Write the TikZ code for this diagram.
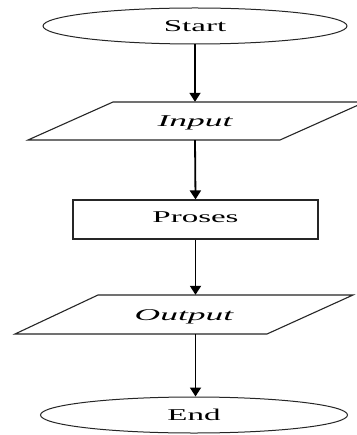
\documentclass[tikz,border=0pt]{standalone}
\usepackage{fontspec}
\setmainfont{Liberation Serif}
\usetikzlibrary{shapes.geometric,arrows.meta}
\begin{document}
\begin{tikzpicture}[x=1pt,y=-1pt,
  lbl/.style={font=\fontsize{16.5}{19}\selectfont, inner sep=0pt, text height=11pt, text depth=0pt},
  term/.style={ellipse, draw=black!85, line width=1pt, lbl},
  shapeline/.style={draw=black!85, line width=1.1pt},
  box/.style={rectangle, shapeline, lbl},
  io/.style={rectangle, lbl, minimum height=38pt, minimum width=180pt},
  arr/.style={line width=1.8pt, -{Triangle[width=11pt,length=9pt]}}]
\useasboundingbox (0,0) rectangle (356,435);
\fill[white] (0,0) rectangle (356,435);
% start
\node[term, minimum width=304pt, minimum height=36pt] (start) at (195,26) {\scalebox{2}[1]{Start}};
% input
\draw[shapeline] (113,102) -- (365,102) -- (280,140) -- (28,140) -- cycle;
\node[io] (input) at (195,121) {\scalebox{2.15}[1]{\itshape Input}};
% proses
\node[box, minimum width=245pt, minimum height=39pt] (proses) at (195.5,219.5) {\raisebox{2pt}{\scalebox{2}[1]{Proses}}};
% output
\draw[shapeline] (98,295) -- (353,295) -- (267,334) -- (15,334) -- cycle;
\node[io, minimum height=39pt] (output) at (184,314.5) {\scalebox{2.15}[1]{\itshape Output}};
% end
\node[term, minimum width=307pt, minimum height=36pt] (end) at (194,415) {\scalebox{2}[1]{End}};
% connectors
\draw[arr] (start.south) -- (input.north);
\draw[arr] (input.south) -- (proses.north);
\draw[arr] (proses.south) -- (proses.south |- output.north);
\draw[arr] (proses.south |- output.south) -- (proses.south |- end.north);
\end{tikzpicture}
\end{document}
